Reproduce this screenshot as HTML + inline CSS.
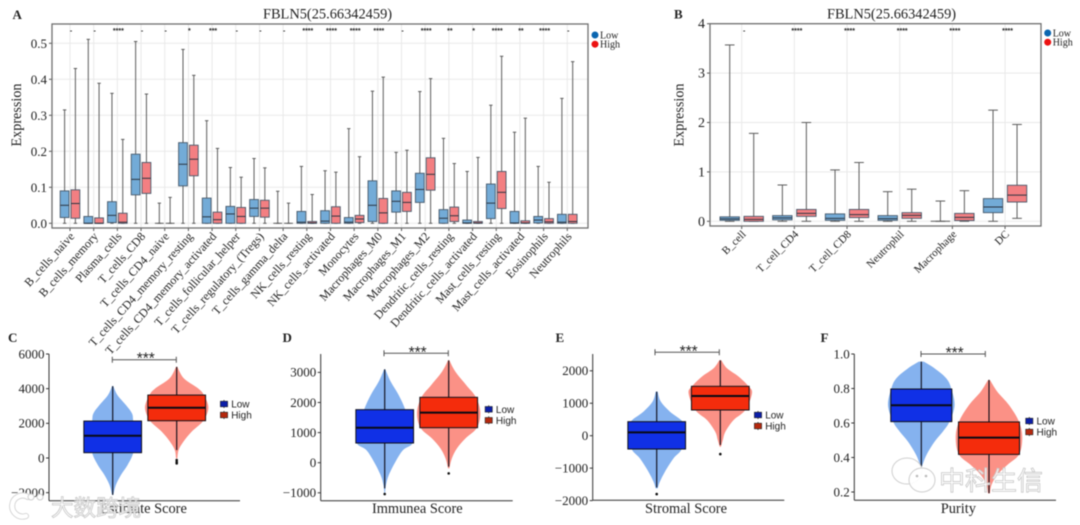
<!DOCTYPE html>
<html lang="en">
<head>
<meta charset="utf-8">
<title>FBLN5 immune infiltration figure</title>
<style>
html,body{margin:0;padding:0;background:#fff;width:1080px;height:525px;overflow:hidden}
svg{display:block;filter:blur(.5px)}
text{font-family:"Liberation Serif","Noto Serif CJK SC",serif;fill:#222}
.sans{font-family:"Liberation Sans","Noto Sans CJK SC",sans-serif}
.wm{font-family:"Liberation Sans","Noto Sans CJK SC",sans-serif;fill:#fff;fill-opacity:.82;stroke:#c8c8c8;stroke-width:.8}
</style>
</head>
<body>
<svg id="figure" xmlns="http://www.w3.org/2000/svg" width="1080" height="525" viewBox="0 0 1080 525">
  <rect x="0" y="0" width="1080" height="525" fill="#fff"/>
  <text x="12.5" y="19" font-size="13" font-weight="bold">A</text>
  <text x="674" y="18.5" font-size="13" font-weight="bold">B</text>
  <text x="8" y="342" font-size="13" font-weight="bold">C</text>
  <text x="282.5" y="342" font-size="13" font-weight="bold">D</text>
  <text x="555.5" y="342" font-size="13" font-weight="bold">E</text>
  <text x="820.5" y="342" font-size="13" font-weight="bold">F</text>
  <text x="327.5" y="18.5" font-size="14.4" text-anchor="middle">FBLN5(25.66342459)</text>
  <text x="891.5" y="18.5" font-size="14.4" text-anchor="middle">FBLN5(25.66342459)</text>
  <text transform="translate(21 115) rotate(-90)" font-size="14.2" text-anchor="middle">Expression</text>
  <text transform="translate(683.5 115) rotate(-90)" font-size="14.2" text-anchor="middle">Expression</text>
  <g id="plots"></g>
  <g id="watermarks">
    <path d="M28 497 A10.5 10.5 0 1 0 26 516" fill="none" stroke="#cfcfcf" stroke-width="6" stroke-linecap="round"/>
    <path d="M28 497 A10.5 10.5 0 1 0 26 516" fill="none" stroke="#fff" stroke-width="4.4" stroke-linecap="round"/>
    <circle cx="31" cy="497" r="3" fill="#fff" stroke="#cfcfcf"/>
    <circle cx="40" cy="497" r="3" fill="#fff" stroke="#cfcfcf"/>
    <text class="wm" x="51" y="516" font-size="22.5">大数跨境</text>
    <ellipse cx="907" cy="471" rx="15" ry="13" fill="#fff" fill-opacity=".85" stroke="#cfcfcf"/>
    <ellipse cx="922" cy="480" rx="13" ry="12" fill="#fff" fill-opacity=".9" stroke="#cfcfcf"/>
    <circle cx="917" cy="476" r="1.3" fill="#bbb"/>
    <circle cx="926" cy="476" r="1.3" fill="#bbb"/>
    <text class="wm" x="939" y="490" font-size="26">中科生信</text>
  </g>
</svg>
<script>
// ---------- Panel A data ----------
const aCategories = ["B_cells_naive","B_cells_memory","Plasma_cells","T_cells_CD8","T_cells_CD4_naive","T_cells_CD4_memory_resting","T_cells_CD4_memory_activated","T_cells_follicular_helper","T_cells_regulatory_(Tregs)","T_cells_gamma_delta","NK_cells_resting","NK_cells_activated","Monocytes","Macrophages_M0","Macrophages_M1","Macrophages_M2","Dendritic_cells_resting","Dendritic_cells_activated","Mast_cells_resting","Mast_cells_activated","Eosinophils","Neutrophils"];
const aSignificance = ["-","-","****","-","-","*","***","-","-","-","****","****","****","****","-","****","**","*","****","**","****","-"];
const aYTicks = [0,0.1,0.2,0.3,0.4,0.5];
const aLowMax = [.315,.511,.361,.505,.056,.483,.285,.155,.18,.089,.158,.146,.263,.367,.197,.366,.236,.144,.328,.253,.158,.347];
const aLowQ3 = [.09,.019,.06,.192,0,.224,.07,.047,.066,0,.033,.035,.016,.118,.09,.139,.038,.009,.109,.033,.019,.025];
const aLowMedian = [.05,0,.022,.122,0,.164,.018,.026,.042,0,.003,.006,.003,.05,.061,.094,.014,.001,.056,.001,.009,.003];
const aLowQ1 = [.016,0,.002,.079,0,.104,0,0,.019,0,0,0,0,.005,.031,.058,0,0,.013,0,.001,0];
const aHighMax = [.43,.389,.233,.359,.072,.411,.208,.128,.154,.056,.08,.142,.185,.406,.203,.402,.166,.183,.464,.292,.114,.449];
const aHighQ3 = [.093,.015,.028,.169,0,.217,.031,.044,.064,0,.005,.046,.022,.069,.086,.182,.045,.005,.144,.007,.013,.025];
const aHighMedian = [.055,0,.003,.125,0,.178,.01,.019,.042,0,.001,.02,.012,.029,.058,.136,.021,.001,.086,.001,.004,.005];
const aHighQ1 = [.014,0,0,.083,0,.132,0,0,.017,0,0,0,.002,0,.033,.092,.005,0,.041,0,0,0];
// ---------- Panel B data ----------
const bCategories = ["B_cell","T_cell_CD4","T_cell_CD8","Neutrophil","Macrophage","DC"];
const bSignificance = ["-","****","****","****","****","****"];
const bYTicks = [0,1,2,3,4];
const bLowMax = [3.57,.735,1.04,.6,.41,2.25];
const bLowQ3 = [.09,.115,.15,.115,0,.46];
const bLowMedian = [.05,.07,.06,.055,0,.29];
const bLowQ1 = [.02,.03,.02,.02,0,.175];
const bHighMax = [1.78,2.0,1.19,.65,.62,1.96];
const bHighQ3 = [.1,.24,.24,.175,.16,.73];
const bHighMedian = [.04,.16,.135,.12,.08,.53];
const bHighQ1 = [0,.1,.075,.06,.015,.39];
const bHighMin = [0,0,0,0,0,.06];
// ---------- Panels C-F data: stats are min, q1, median, q3, max ----------
const cTicks = [-2000,0,2000,4000,6000];
const cLowStats = [-2130,307,1285,2130,4145];
const cHighStats = [460,2150,2900,3630,5260];
const cLowOutliers = [];
const cHighOutliers = [-115,-230,-307];
const cLowViolinValues = [4145,3627,3051,2571,2130,1324,307,-403,-979,-1554,-2130];
const cLowViolinDensity = [.02,.15,.42,.61,.65,.72,.65,.47,.26,.1,.02];
const cHighViolinValues = [5260,4586,4010,3627,2898,2149,1516,940,460,-20];
const cHighViolinDensity = [.02,.23,.68,.86,1,.84,.47,.21,.06,.02];

const dTicks = [-1000,0,1000,2000,3000];
const dLowStats = [-853,654,1163,1762,3102];
const dHighStats = [-133,1163,1662,2172,3400];
const dLowOutliers = [-1041];
const dHighOutliers = [-355];
const dLowViolinValues = [3102,2692,2249,1762,1163,654,421,33,-410,-742,-1019];
const dLowViolinDensity = [.02,.19,.44,.65,.82,.88,.58,.34,.13,.04,.01];
const dHighViolinValues = [3402,3025,2582,2172,1662,1163,809,476,144,-188];
const dHighViolinDensity = [.02,.21,.55,.86,1,.89,.53,.26,.1,.02];

const eTicks = [-2000,-1000,0,1000,2000];
const eLowStats = [-1594,-411,103,432,1357];
const eHighStats = [-288,792,1224,1522,2324];
const eLowOutliers = [-1800];
const eHighOutliers = [-566];
const eLowViolinValues = [1357,1049,740,432,103,-411,-699,-1110,-1419,-1624];
const eLowViolinDensity = [.03,.13,.42,.82,.89,.79,.53,.26,.1,.03];
const eHighViolinValues = [2324,2077,1820,1522,1306,792,483,123,-134,-339];
const eHighViolinDensity = [.03,.21,.58,.89,1,.79,.42,.16,.08,.02];

const fTicks = [0.2,0.4,0.6,0.8,1.0];
const fLowStats = [.347,.608,.703,.797,.956];
const fHighStats = [.193,.418,.515,.606,.85];
const fLowOutliers = [];
const fHighOutliers = [];
const fLowViolinValues = [.956,.917,.859,.797,.702,.608,.55,.492,.414,.347];
const fLowViolinDensity = [.08,.42,.79,.95,1.05,.89,.68,.42,.16,.02];
const fHighViolinValues = [.849,.782,.704,.606,.515,.418,.357,.299,.241,.192];
const fHighViolinDensity = [.03,.26,.63,.95,1.05,.95,.58,.26,.08,.03];

// ---------- helpers ----------
const SVG_NS = "http://www.w3.org/2000/svg";
const plots = document.getElementById("plots");
function mk(tag, attrs, parent, txt) {
  const n = document.createElementNS(SVG_NS, tag);
  for (const k in attrs) n.setAttribute(k, attrs[k]);
  if (txt !== undefined) n.textContent = txt;
  parent.appendChild(n);
  return n;
}
function linear(d0, d1, r0, r1) {
  return function (v) { return r0 + (v - d0) * (r1 - r0) / (d1 - d0); };
}
function smoothSegment(pts) {
  let out = "";
  for (let i = 0; i < pts.length - 1; i++) {
    const p0 = pts[Math.max(i - 1, 0)], p1 = pts[i], p2 = pts[i + 1], p3 = pts[Math.min(i + 2, pts.length - 1)];
    const c1x = p1[0] + (p2[0] - p0[0]) / 6, c1y = p1[1] + (p2[1] - p0[1]) / 6;
    const c2x = p2[0] - (p3[0] - p1[0]) / 6, c2y = p2[1] - (p3[1] - p1[1]) / 6;
    out += "C" + c1x.toFixed(2) + " " + c1y.toFixed(2) + " " + c2x.toFixed(2) + " " + c2y.toFixed(2) + " " + p2[0].toFixed(2) + " " + p2[1].toFixed(2);
  }
  return out;
}

// ---------- grouped boxplots (A, B) ----------
function drawBoxGroup(parent, label, series, i, cx, w, capW, y, fill) {
  const g = mk("g", {}, parent);
  
  
  const color = "#5c5c5c";
  mk("line", {x1: cx, x2: cx, y1: y(series.max[i]), y2: y(series.min ? series.min[i] : 0), stroke: color, "stroke-width": 1}, g);
  mk("line", {x1: cx - capW / 2, x2: cx + capW / 2, y1: y(series.max[i]), y2: y(series.max[i]), stroke: color, "stroke-width": 1}, g);
  mk("line", {x1: cx - capW / 2, x2: cx + capW / 2, y1: y(series.min ? series.min[i] : 0), y2: y(series.min ? series.min[i] : 0), stroke: color, "stroke-width": 1}, g);
  if (series.q3[i] > series.q1[i]) {
    mk("rect", {x: cx - w / 2, width: w, y: y(series.q3[i]), height: y(series.q1[i]) - y(series.q3[i]), fill: fill, stroke: "#46586a", "stroke-width": .9}, g);
    mk("line", {x1: cx - w / 2, x2: cx + w / 2, y1: y(series.median[i]), y2: y(series.median[i]), stroke: "#2b3440", "stroke-width": 1}, g);
  } else {
    mk("line", {x1: cx - w / 2, x2: cx + w / 2, y1: y(series.median[i]), y2: y(series.median[i]), stroke: "#5c5c5c", "stroke-width": 1}, g);
  }
}

function drawBoxPanel(p) {
  const root = mk("g", {}, plots);
  
  
  const y = linear(p.yDomain[0], p.yDomain[1], p.yRange[0], p.yRange[1]);
  const x = function (i) { return p.x0 + i * p.step; };
  const grid = mk("g", {}, root);
  
  
  p.ticks.forEach(function (t) {
    mk("line", {x1: p.left, x2: p.right, y1: y(t), y2: y(t), stroke: "#e9e9e9", "stroke-width": 1}, grid);
  });
  p.categories.forEach(function (c, i) {
    mk("line", {x1: x(i), x2: x(i), y1: p.top, y2: p.bottom, stroke: "#e9e9e9", "stroke-width": 1}, grid);
  });
  p.categories.forEach(function (c, i) {
    drawBoxGroup(root, p.id + "-low-" + c, p.low, i, x(i) - p.offset, p.boxW, p.capW, y, "#73abd7");
    drawBoxGroup(root, p.id + "-high-" + c, p.high, i, x(i) + p.offset, p.boxW, p.capW, y, "#f37f82");
    const sig = mk("text", {x: x(i) + p.sigShift, y: 33, "font-size": 7, "text-anchor": "middle", class: "sans", "font-weight": "bold"}, root, p.significance[i]);
    
    
    mk("line", {x1: x(i), x2: x(i), y1: p.bottom, y2: p.bottom + 3, stroke: "#555", "stroke-width": 1}, root);
    const lab = mk("text", {transform: "translate(" + (x(i) + 3) + " " + (p.bottom + 7) + ") rotate(" + p.labelAngle + ")", "font-size": p.labelFont, "text-anchor": "end", "dominant-baseline": "middle"}, root, c);
    
    
  });
  p.ticks.forEach(function (t) {
    mk("line", {x1: p.left - 3, x2: p.left, y1: y(t), y2: y(t), stroke: "#555", "stroke-width": 1}, root);
    const lab = mk("text", {x: p.left - 5, y: y(t) + 4.5, "font-size": p.tickFont, "text-anchor": "end"}, root, t.toFixed(p.decimals));
    
    
  });
  const frame = mk("rect", {x: p.left, y: p.top, width: p.right - p.left, height: p.bottom - p.top, fill: "none", stroke: "#6f6f6f", "stroke-width": 1.3}, root);
  
  
  const leg = mk("g", {}, root);
  
  
  mk("circle", {cx: p.legendX, cy: p.legendY, r: 3.5, fill: "#0a66b0"}, leg);
  mk("text", {x: p.legendX + 5, y: p.legendY + 3.3, "font-size": 10}, leg, "Low");
  mk("circle", {cx: p.legendX, cy: p.legendY + 9.2, r: 3.5, fill: "#ec1111"}, leg);
  mk("text", {x: p.legendX + 5, y: p.legendY + 12.5, "font-size": 10}, leg, "High");
}

drawBoxPanel({
  id: "a", categories: aCategories, significance: aSignificance, ticks: aYTicks, decimals: 1, tickFont: 13,
  yDomain: [0, .5], yRange: [223.3, 43.3], left: 52, right: 588, top: 24, bottom: 228,
  x0: 70, step: 23.68, offset: 5.4, boxW: 8.8, capW: 3.4, sigShift: 1, labelFont: 12, labelAngle: -48,
  legendX: 595, legendY: 35,
  low: {max: aLowMax, q3: aLowQ3, median: aLowMedian, q1: aLowQ1},
  high: {max: aHighMax, q3: aHighQ3, median: aHighMedian, q1: aHighQ1}
});
drawBoxPanel({
  id: "b", categories: bCategories, significance: bSignificance, ticks: bYTicks, decimals: 0, tickFont: 14,
  yDomain: [0, 4], yRange: [221.3, 23.7], left: 710, right: 1041, top: 23.7, bottom: 226,
  x0: 741.7, step: 52.67, offset: 12, boxW: 19.4, capW: 9.6, sigShift: 2.5, labelFont: 11, labelAngle: -45,
  legendX: 1047.7, legendY: 33,
  low: {max: bLowMax, q3: bLowQ3, median: bLowMedian, q1: bLowQ1},
  high: {max: bHighMax, q3: bHighQ3, median: bHighMedian, q1: bHighQ1, min: bHighMin}
});

// ---------- violin panels (C-F) ----------
function drawViolinGroup(parent, label, cx, boxW, y, stats, outliers, values, density, vColor, bColor) {
  const g = mk("g", {}, parent);
  
  
  const width = linear(0, 1, 0, 31.7);
  const right = values.map(function (v, i) { return [cx + width(density[i]), y(v)]; });
  const left = values.map(function (v, i) { return [cx - width(density[i]), y(v)]; }).reverse();
  const d = "M" + right[0][0].toFixed(2) + " " + right[0][1].toFixed(2) + smoothSegment(right) +
            "L" + left[0][0].toFixed(2) + " " + left[0][1].toFixed(2) + smoothSegment(left) + "Z";
  mk("path", {d: d, fill: vColor}, g);
  mk("line", {x1: cx, x2: cx, y1: y(stats[4]), y2: y(stats[0]), stroke: "#0a0a14", "stroke-width": 1.1}, g);
  outliers.forEach(function (o) {
    const pt = mk("circle", {cx: cx, cy: y(o), r: 1.3, fill: "#111"}, g);
    
    
  });
  const box = mk("rect", {x: cx - boxW / 2, width: boxW, y: y(stats[3]), height: y(stats[1]) - y(stats[3]), fill: bColor, stroke: "#101018", "stroke-width": 1}, g);
  
  
  const med = mk("line", {x1: cx - boxW / 2, x2: cx + boxW / 2, y1: y(stats[2]), y2: y(stats[2]), stroke: "#0a0a14", "stroke-width": 2}, g);
  
  
}

function drawViolinPanel(p) {
  const root = mk("g", {}, plots);
  
  
  const y = linear(p.yRef[0], p.yRef[1], p.yPix[0], p.yPix[1]);
  drawViolinGroup(root, p.id + "-low", p.lowX, p.boxW, y, p.lowStats, p.lowOut, p.lowVals, p.lowDens, "#85b2ef", "#1030e6");
  drawViolinGroup(root, p.id + "-high", p.highX, p.boxW, y, p.highStats, p.highOut, p.highVals, p.highDens, "#fb9186", "#f42c0c");
  mk("line", {x1: p.axisX, x2: p.axisX, y1: 354, y2: p.axisY, stroke: "#333", "stroke-width": 1}, root);
  mk("line", {x1: p.axisX, x2: p.axisEnd, y1: p.axisY, y2: p.axisY, stroke: "#333", "stroke-width": 1}, root);
  p.ticks.forEach(function (t) {
    mk("line", {x1: p.axisX - 3, x2: p.axisX, y1: y(t), y2: y(t), stroke: "#333", "stroke-width": 1}, root);
    const text = p.decimals ? t.toFixed(p.decimals) : String(t).replace("-", "\u2212");
    const lab = mk("text", {x: p.axisX - 4.5, y: y(t) + 4.3, "font-size": 13, "text-anchor": "end"}, root, text);
    
    
  });
  const xt = mk("text", {x: p.labelX, y: 513, "font-size": 14.4, "text-anchor": "middle"}, root, p.label);
  
  
  const br = mk("path", {d: "M" + p.br[0] + " " + (p.brY - 3) + "V" + (p.brY + 3) + "M" + p.br[0] + " " + p.brY + "H" + p.br[1] + "M" + p.br[1] + " " + (p.brY - 3) + "V" + (p.brY + 3), fill: "none", stroke: "#555", "stroke-width": 1}, root);
  
  
  const st = mk("text", {x: (p.br[0] + p.br[1]) / 2 + 1.5, y: p.brY + 4, "font-size": 15.5, "text-anchor": "middle", class: "sans", fill: "#555"}, root, "***");
  
  
  const leg = mk("g", {}, root);
  
  
  [["Low", "#0c1ea8", 0], ["High", "#b5280e", 11]].forEach(function (e) {
    const cy = p.legY + e[2];
    mk("line", {x1: p.legX, x2: p.legX, y1: cy - 4, y2: cy + 4, stroke: "#222", "stroke-width": .8}, leg);
    mk("rect", {x: p.legX - 3.6, y: cy - 2.8, width: 7.2, height: 5.6, fill: e[1], stroke: "#222", "stroke-width": .6}, leg);
    mk("text", {x: p.legX + 7.2, y: cy + 3.5, "font-size": 10, class: "sans"}, leg, e[0]);
  });
}

drawViolinPanel({id: "c", label: "Estimate Score", labelX: 143.5, ticks: cTicks, decimals: 0,
  yRef: [0, 6000], yPix: [458, 354], axisX: 49, axisY: 500.7, axisEnd: 240,
  lowX: 112.7, highX: 176.7, boxW: 57.7, br: [112.3, 176.3], brY: 359.7, legX: 224, legY: 404,
  lowStats: cLowStats, highStats: cHighStats, lowOut: cLowOutliers, highOut: cHighOutliers,
  lowVals: cLowViolinValues, lowDens: cLowViolinDensity, highVals: cHighViolinValues, highDens: cHighViolinDensity});
drawViolinPanel({id: "d", label: "Immunea Score", labelX: 417.3, ticks: dTicks, decimals: 0,
  yRef: [0, 3000], yPix: [462.7, 372.4], axisX: 320.7, axisY: 500.7, axisEnd: 512.7,
  lowX: 384.7, highX: 448.7, boxW: 57.7, br: [384, 448.3], brY: 353.3, legX: 488.7, legY: 409.3,
  lowStats: dLowStats, highStats: dHighStats, lowOut: dLowOutliers, highOut: dHighOutliers,
  lowVals: dLowViolinValues, lowDens: dLowViolinDensity, highVals: dHighViolinValues, highDens: dHighViolinDensity});
drawViolinPanel({id: "e", label: "Stromal Score", labelX: 686, ticks: eTicks, decimals: 0,
  yRef: [0, 2000], yPix: [435.7, 370.8], axisX: 592.7, axisY: 500.3, axisEnd: 784.3,
  lowX: 656.7, highX: 720.3, boxW: 57.7, br: [655, 719.3], brY: 352.3, legX: 758, legY: 415,
  lowStats: eLowStats, highStats: eHighStats, lowOut: eLowOutliers, highOut: eHighOutliers,
  lowVals: eLowViolinValues, lowDens: eLowViolinDensity, highVals: eHighViolinValues, highDens: eHighViolinDensity});
drawViolinPanel({id: "f", label: "Purity", labelX: 958.3, ticks: fTicks, decimals: 1,
  yRef: [1.0, 0.2], yPix: [354, 492], axisX: 854.3, axisY: 500.3, axisEnd: 1056,
  lowX: 921.3, highX: 989, boxW: 61, br: [921, 985.3], brY: 354, legX: 1029.3, legY: 421,
  lowStats: fLowStats, highStats: fHighStats, lowOut: fLowOutliers, highOut: fHighOutliers,
  lowVals: fLowViolinValues, lowDens: fLowViolinDensity, highVals: fHighViolinValues, highDens: fHighViolinDensity});
</script>
</body>
</html>
